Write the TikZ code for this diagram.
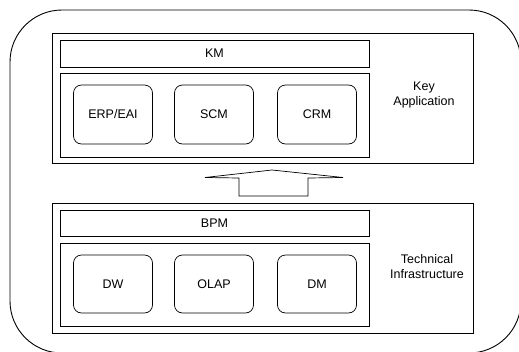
\documentclass[tikz,border=0pt]{standalone}
\usepackage{fontspec}
\setmainfont{Liberation Sans}
\usetikzlibrary{positioning}

\tikzset{
  frame/.style={draw=black, line width=0.8pt},
  barbox/.style={draw=black, line width=0.7pt, minimum width=309pt, inner sep=0pt},
  modbox/.style={draw=black, line width=0.7pt, rounded corners=8pt, minimum width=79pt, inner sep=0pt},
  tag/.style={align=center, font=\fontsize{12.5}{15}\selectfont}
}

\begin{document}
\begin{tikzpicture}[x=1pt, y=-1pt, font=\fontsize{12.5}{15}\selectfont]
\useasboundingbox (0,0) rectangle (519,351);
\begin{scope}
\clip (0,0) rectangle (519,351);
\draw [frame, line width=0.9pt, rounded corners=52pt] (10,10) rectangle (521,353);
\end{scope}
% upper layer
\draw [frame] (52,33) rectangle (473,163);
\node [barbox, minimum height=27pt] (km) at (214.5,53.5) {KM};
\node [barbox, minimum height=84pt] (app) at (214.5,115) {};
\node [modbox, minimum height=59pt] (erp) at (113,114.5) {ERP/EAI};
\node [modbox, minimum height=59pt] (scm) at (214,114.5) {SCM};
\node [modbox, minimum height=59pt] (crm) at (317,114.5) {CRM};
\node [tag] (keyapp) at (424,95) {Key\\Application};
% lower layer
\draw [frame] (52,203) rectangle (473,333);
\node [barbox, minimum height=26pt] (bpm) at (214.5,223) {BPM};
\node [barbox, minimum height=83pt] (infra) at (214.5,284.5) {};
\node [modbox, minimum height=58pt] (dw) at (113,284) {DW};
\node [modbox, minimum height=58pt] (olap) at (214,284) {OLAP};
\node [modbox, minimum height=58pt] (dm) at (317,284) {DM};
\node [tag] (techinf) at (427,267) {Technical\\Infrastructure};
% block arrow
\draw [frame, line width=0.7pt] (239,196) -- (239,178) -- (205,177.5) -- (272,170)
  -- (343,177.5) -- (308,178) -- (308,196) -- cycle;
\end{tikzpicture}
\end{document}
